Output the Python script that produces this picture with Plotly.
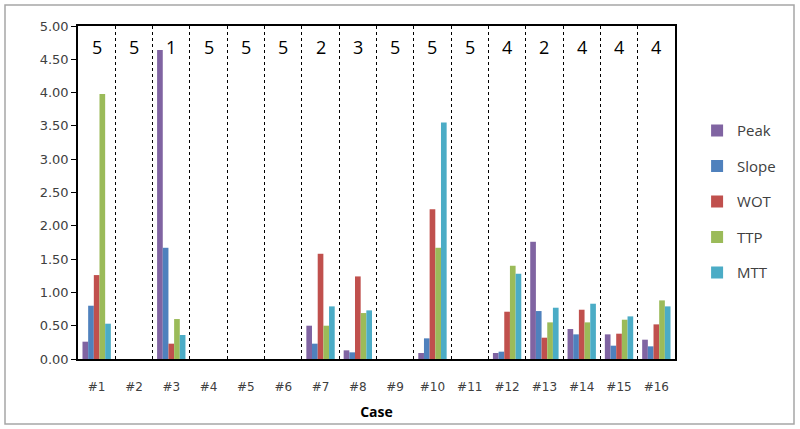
import plotly.graph_objects as go

cases = ["#1", "#2", "#3", "#4", "#5", "#6", "#7", "#8", "#9", "#10",
         "#11", "#12", "#13", "#14", "#15", "#16"]
counts = ["5", "5", "1", "5", "5", "5", "2", "3", "5", "5", "5", "4", "2", "4", "4", "4"]

peak  = [0.26, 0, 4.64, 0, 0, 0, 0.50, 0.13, 0, 0.09, 0, 0.09, 1.76, 0.45, 0.37, 0.29]
slope = [0.80, 0, 1.67, 0, 0, 0, 0.23, 0.10, 0, 0.31, 0, 0.11, 0.72, 0.37, 0.20, 0.19]
wot   = [1.26, 0, 0.23, 0, 0, 0, 1.58, 1.24, 0, 2.25, 0, 0.71, 0.32, 0.74, 0.38, 0.52]
ttp   = [3.98, 0, 0.60, 0, 0, 0, 0.50, 0.69, 0, 1.67, 0, 1.40, 0.55, 0.55, 0.59, 0.88]
mtt   = [0.53, 0, 0.36, 0, 0, 0, 0.79, 0.73, 0, 3.55, 0, 1.28, 0.77, 0.83, 0.64, 0.79]

series = [("Peak", peak, "#8064A2"), ("Slope", slope, "#4F81BD"),
          ("WOT", wot, "#C0504D"), ("TTP", ttp, "#9BBB59"), ("MTT", mtt, "#4BACC6")]

fig = go.Figure()
for name, vals, col in series:
    fig.add_trace(go.Bar(x=cases, y=vals, name=name, marker_color=col,
                         marker_line_width=0, legendgroup=name))

for c, n in zip(cases, counts):
    fig.add_annotation(x=c, y=4.68, text=n, showarrow=False,
                       font=dict(family="Open Sans", size=18, color="#000000"))

L, R, T, B = 78, 125, 26, 70
W, H = 800, 429
pw, ph = W - L - R, H - T - B
fig.add_shape(type="rect", xref="paper", yref="paper",
              x0=(5 - L) / pw, x1=(794 - L) / pw,
              y0=(H - B - 424) / ph, y1=(H - B - 5) / ph,
              line=dict(color="#A6A6A6", width=1.5), layer="below")

fig.update_layout(
    width=W, height=H, margin=dict(l=L, r=R, t=T, b=B),
    paper_bgcolor="white", plot_bgcolor="white",
    barmode="group", bargap=0.24, bargroupgap=0,
    font=dict(family="DejaVu Sans", size=12, color="#404040"),
    legend=dict(x=1.037, xanchor="left", y=0.735, yanchor="top",
                font=dict(family="Open Sans", size=15, color="#404040"),
                tracegroupgap=13, itemwidth=30, bgcolor="rgba(0,0,0,0)"),
    showlegend=True,
)
fig.update_xaxes(type="category", showline=True, linecolor="#000000", linewidth=1.5,
                 mirror=True, showgrid=True, tickson="boundaries",
                 gridcolor="#000000", griddash="dot", gridwidth=1,
                 ticks="", ticklabelstandoff=16,
                 tickfont=dict(family="DejaVu Sans", size=12, color="#404040"),
                 title=dict(text="<b>Case</b>", standoff=14,
                            font=dict(family="Open Sans", size=14, color="#000000")))
fig.update_yaxes(range=[0, 5], dtick=0.5, tickformat=".2f", showline=True,
                 linecolor="#000000", linewidth=1.5, mirror=True, showgrid=False,
                 zeroline=False, ticks="outside", ticklen=5, tickcolor="#000000",
                 tickfont=dict(family="DejaVu Sans", size=13, color="#404040"))

fig.write_html("out.html", config={"displayModeBar": False},
               post_script="document.body.style.margin='0';document.body.style.overflow='hidden';")
